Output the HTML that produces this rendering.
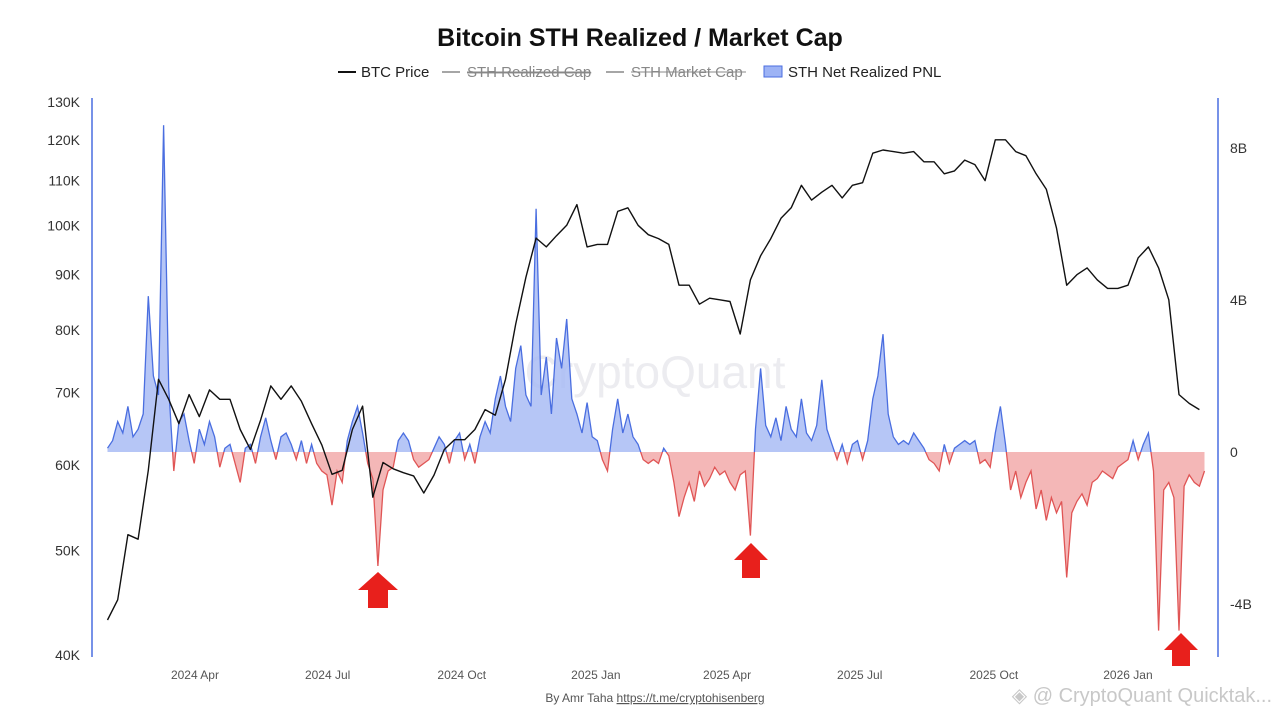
<!DOCTYPE html>
<html><head><meta charset="utf-8"><style>
body{margin:0;background:#fff;font-family:"Liberation Sans",sans-serif;}
svg text{font-family:"Liberation Sans",sans-serif;}
</style></head><body>
<svg id="c" width="1280" height="720" viewBox="0 0 1280 720">
<text x="640" y="46" text-anchor="middle" font-size="25" font-weight="bold" fill="#111">Bitcoin STH Realized / Market Cap</text>
<g font-size="15">
 <g><line x1="338" y1="72" x2="356" y2="72" stroke="#111" stroke-width="2"/><text x="361" y="77" fill="#222">BTC Price</text></g>
 <g><line x1="442" y1="72" x2="460" y2="72" stroke="#888" stroke-width="1.5"/><text x="467" y="77" fill="#888" text-decoration="line-through">STH Realized Cap</text><line x1="467" y1="72" x2="590" y2="72" stroke="#888"/></g>
 <g><line x1="606" y1="72" x2="624" y2="72" stroke="#888" stroke-width="1.5"/><text x="631" y="77" fill="#888">STH Market Cap</text><line x1="631" y1="72" x2="746" y2="72" stroke="#888"/></g>
 <g><rect x="764" y="66" width="18" height="11" fill="#9db3f5" stroke="#4a6ee0"/><text x="788" y="77" fill="#222">STH Net Realized PNL</text></g>
</g>
<text x="655" y="388" text-anchor="middle" font-size="46" fill="#ececf0">CryptoQuant</text>
<line x1="92" y1="98" x2="92" y2="657" stroke="#4a6ee0" stroke-width="1.5"/>
<line x1="1218" y1="98" x2="1218" y2="657" stroke="#4a6ee0" stroke-width="1.5"/>
<g id="axes"></g>
<defs>
<clipPath id="above"><rect x="0" y="0" width="1280" height="452"/></clipPath>
<clipPath id="below"><rect x="0" y="452" width="1280" height="300"/></clipPath>
</defs>
<g id="pnl"></g>
<g id="price"></g>
<g fill="#e8201c">
 <path d="M378 572 L398 590 L388 590 L388 608 L368 608 L368 590 L358 590 Z"/>
 <path d="M751 543 L768 560 L760 560 L760 578 L742 578 L742 560 L734 560 Z"/>
 <path d="M1181 633 L1198 650 L1190 650 L1190 666 L1172 666 L1172 650 L1164 650 Z"/>
</g>
<text x="655" y="702" text-anchor="middle" font-size="12" fill="#555">By Amr Taha <tspan text-decoration="underline">https://t.me/cryptohisenberg</tspan></text>
<text x="1272" y="702" text-anchor="end" font-size="20" fill="#c8c8c8">◈ @ CryptoQuant Quicktak...</text>
</svg>
<script>
const priceK=[43.1,45,51.7,51.2,59.3,72,69,65.5,69.7,66.5,70.4,69,69,64.7,62,66,71,69,71,68.7,65.5,62.6,58.8,59.3,64.7,68,56,60.3,59.5,59,58.6,56.5,58.7,62,63.3,63.3,64.7,67.5,66.7,72,81,89.5,97.3,95.5,97.8,100,104.5,95.5,96,96,103,103.8,100,98,97.2,96,88,88,84.5,85.6,85.3,85,79.3,89,93.7,97.2,101.5,103.8,108.9,105.5,107.3,108.9,106,108.9,109.5,116.6,117.4,117,116.6,117,114.5,114.5,111.6,112.3,114.9,113.8,110,120,120,117,116,111.6,108,99.4,88,90,91.3,89,87.4,87.4,88,93.3,95.5,91.3,85.3,69.7,68.4,67.5];
const pnlB=[0.1,0.3,0.8,0.5,1.2,0.4,0.6,1.0,4.1,2.0,1.5,8.6,1.7,-0.5,0.8,1.0,0.3,-0.3,0.6,0.2,0.8,0.4,-0.4,0.1,0.2,-0.3,-0.8,0.1,0.2,-0.3,0.4,0.9,0.3,-0.2,0.4,0.5,0.2,-0.2,0.3,-0.3,0.2,-0.3,-0.5,-0.6,-1.4,-0.5,-0.8,0.3,0.8,1.2,0.5,-0.3,-0.7,-3.0,-1.0,-0.5,-0.4,0.3,0.5,0.3,-0.2,-0.4,-0.3,-0.2,0.1,0.4,0.2,-0.3,0.3,0.5,-0.2,0.2,-0.3,0.4,0.8,0.5,1.4,2.0,1.2,0.8,2.2,2.8,1.5,1.2,6.4,1.5,2.5,1.0,3.0,2.2,3.5,1.4,1.0,0.5,1.3,0.4,0.3,-0.2,-0.5,0.6,1.4,0.5,1.0,0.4,0.2,-0.2,-0.3,-0.2,-0.3,0.1,-0.1,-0.8,-1.7,-1.2,-0.8,-1.3,-0.5,-0.9,-0.7,-0.4,-0.6,-0.5,-0.8,-1.0,-0.6,-0.5,-2.2,0.6,2.2,0.7,0.4,0.9,0.3,1.2,0.6,0.4,1.4,0.5,0.3,0.7,1.9,0.6,0.2,-0.2,0.2,-0.3,0.2,0.3,-0.2,0.3,1.4,2.0,3.1,1.0,0.4,0.2,0.3,0.2,0.5,0.3,0.1,-0.2,-0.3,-0.5,0.2,-0.3,0.1,0.2,0.3,0.2,0.3,-0.3,-0.2,-0.4,0.5,1.2,0.2,-1.0,-0.5,-1.2,-0.8,-0.5,-1.5,-1.0,-1.8,-1.2,-1.6,-1.3,-3.3,-1.6,-1.3,-1.1,-1.4,-0.8,-0.7,-0.5,-0.6,-0.7,-0.4,-0.3,-0.2,0.3,-0.2,0.2,0.5,-0.5,-4.7,-1.0,-0.8,-1.2,-4.7,-0.9,-0.6,-0.8,-0.9,-0.5];
const leftTicks=[40,50,60,70,80,90,100,110,120,130];
const rightTicks=[-4,0,4,8];
const xLabels=["2024 Apr","2024 Jul","2024 Oct","2025 Jan","2025 Apr","2025 Jul","2025 Oct","2026 Jan"];
const xLabelDays=[60,151,243,335,425,516,608,700];
const ns="http://www.w3.org/2000/svg";
const pxPerDay=1.4578, x0=107.5;
const xDay=d=>x0+d*pxPerDay;
const yL=v=>655-469*Math.log(v/40);
const yR=b=>452-38*b;
function mk(tag,attrs,parent){const e=document.createElementNS(ns,tag);for(const k in attrs)e.setAttribute(k,attrs[k]);parent.appendChild(e);return e;}
const axes=document.getElementById('axes');
leftTicks.forEach(v=>{const t=mk('text',{x:80,y:yL(v)+5,'text-anchor':'end','font-size':14,fill:'#333'},axes);t.textContent=v+'K';

});
rightTicks.forEach(b=>{const t=mk('text',{x:1230,y:yR(b)+5,'font-size':14,fill:'#333'},axes);t.textContent=b===0?'0':b+'B';

});
xLabels.forEach((l,i)=>{const t=mk('text',{x:xDay(xLabelDays[i]),y:679,'text-anchor':'middle','font-size':12,fill:'#555'},axes);t.textContent=l;

});
// PNL
const pg=document.getElementById('pnl');
const pstep=3.5;
let pts=pnlB.map((b,i)=>[xDay(i*pstep),yR(b)]);
let line=pts.map((p,i)=>(i?'L':'M')+p[0].toFixed(1)+' '+p[1].toFixed(1)).join(' ');
let area=line+` L${pts[pts.length-1][0].toFixed(1)} 452 L${pts[0][0].toFixed(1)} 452 Z`;
const pa=mk('path',{d:area,fill:'#a9bcf5',opacity:0.85,'clip-path':'url(#above)'},pg);


const pl=mk('path',{d:line,fill:'none',stroke:'#4a6ee0','stroke-width':1.3,'clip-path':'url(#above)'},pg);


const na=mk('path',{d:area,fill:'#f2aaaa',opacity:0.85,'clip-path':'url(#below)'},pg);


const nl=mk('path',{d:line,fill:'none',stroke:'#e05555','stroke-width':1.3,'clip-path':'url(#below)'},pg);


// price
const prg=document.getElementById('price');
const pd=priceK.map((v,i)=>(i?'L':'M')+xDay(i*7).toFixed(1)+' '+yL(v).toFixed(1)).join(' ');
const pp=mk('path',{d:pd,fill:'none',stroke:'#111','stroke-width':1.4,'stroke-linejoin':'round'},prg);


</script>
</body></html>
